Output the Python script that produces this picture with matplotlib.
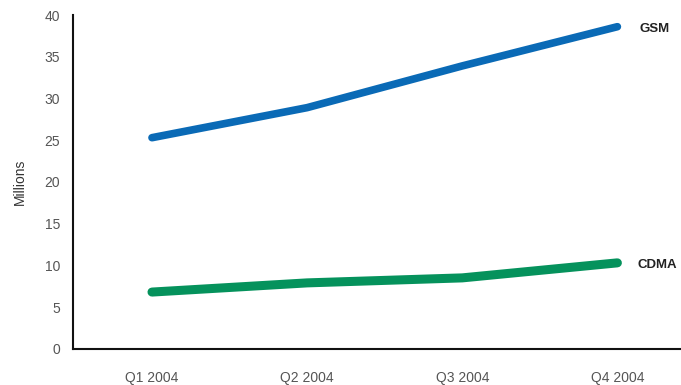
import matplotlib
matplotlib.use("Agg")
import matplotlib.pyplot as plt

plt.rcParams['font.family'] = ['Liberation Sans', 'DejaVu Sans']

quarters = ["Q1 2004", "Q2 2004", "Q3 2004", "Q4 2004"]
gsm = [25.3, 28.9, 33.9, 38.6]
cdma = [6.8, 7.9, 8.5, 10.3]

fig = plt.figure(figsize=(6.81, 3.85), dpi=100)
ax = fig.add_axes([0.107, 0.094, 0.893, 0.867])

x = range(len(quarters))
ax.plot(x, gsm, color="#0a6ab6", lw=5.5, solid_capstyle="round", solid_joinstyle="round")
ax.plot(x, cdma, color="#05925c", lw=6.5, solid_capstyle="round", solid_joinstyle="round")

ax.text(3.14, gsm[-1] - 0.3, "GSM", fontsize=9.5, fontweight="bold", va="center", color="#222222")
ax.text(3.13, cdma[-1] - 0.2, "CDMA", fontsize=9.5, fontweight="bold", va="center", color="#222222")

ax.set_xlim(-0.51, 3.41)
ax.set_ylim(0, 40)
ax.set_yticks(range(0, 41, 5))
ax.set_xticks(list(x))
ax.set_xticklabels(quarters)
ax.tick_params(length=0, colors="#555555", labelsize=10)
ax.tick_params(axis="x", pad=16)
ax.tick_params(axis="y", pad=9)
ax.set_ylabel("Millions", fontsize=10, color="#333333", labelpad=13)

for s in ["top", "right"]:
    ax.spines[s].set_visible(False)
for s in ["left", "bottom"]:
    ax.spines[s].set_linewidth(1.5)
    ax.spines[s].set_color("#111111")

fig.savefig("out.png", dpi=100)
